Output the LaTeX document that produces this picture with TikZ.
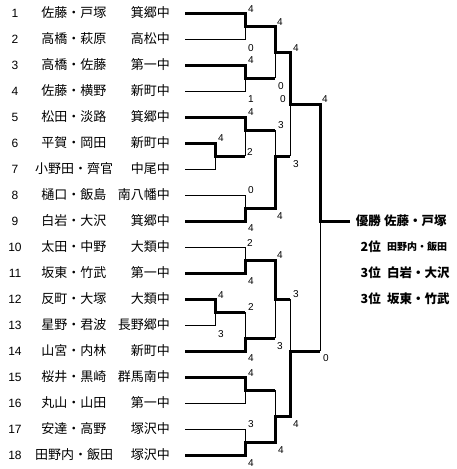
\documentclass[tikz,border=0pt]{standalone}
\usepackage{fontspec}
\setmainfont{Liberation Sans}
\newfontfamily\jp{Noto Sans CJK JP}
\usetikzlibrary{positioning}

\begin{document}
\begin{tikzpicture}[x=1pt, y=-1pt,
  num/.style={font=\fontsize{12}{14}\selectfont, inner sep=0pt},
  pair/.style={font=\jp\fontsize{13}{15}\selectfont, inner sep=0pt},
  school/.style={font=\jp\fontsize{13}{15}\selectfont, inner sep=0pt, anchor=east},
  sc/.style={font=\fontsize{10}{12}\selectfont, inner sep=0pt},
  rank/.style={font=\jp\bfseries\fontsize{12.5}{14}\selectfont, inner sep=0pt, anchor=east},
  wname/.style={font=\jp\bfseries\fontsize{12.5}{14}\selectfont, inner sep=0pt, anchor=west},
  win/.style={line width=3pt},
  lose/.style={line width=1pt}]
  \useasboundingbox (0,0) rectangle (456,469);

  % entries
  \foreach \i/\p/\s in {1/佐藤・戸塚/箕郷中, 2/高橋・萩原/高松中, 3/高橋・佐藤/第一中,
      4/佐藤・横野/新町中, 5/松田・淡路/箕郷中, 6/平賀・岡田/新町中, 7/小野田・齊官/中尾中,
      8/樋口・飯島/南八幡中, 9/白岩・大沢/箕郷中, 10/太田・中野/大類中, 11/坂東・竹武/第一中,
      12/反町・大塚/大類中, 13/星野・君波/長野郷中, 14/山宮・内林/新町中, 15/桜井・黒崎/群馬南中,
      16/丸山・山田/第一中, 17/安達・高野/塚沢中, 18/田野内・飯田/塚沢中} {
    \node[num] (n\i) at (15, 26*\i-13) {\i};
    \node[pair] (p\i) at (74, 26*\i-13) {\p};
    \node[school] (s\i) at (170, 26*\i-13) {\s};
    \coordinate (r\i) at (185, 26*\i-13);
  }

  % match points
  \coordinate (j1) at (245,26);    \coordinate (j2) at (245,78);
  \coordinate (j67) at (215,156);  \coordinate (j5) at (245,130);
  \coordinate (j89) at (245,208);  \coordinate (j1011) at (245,260);
  \coordinate (j1213) at (215,312); \coordinate (j14) at (245,338);
  \coordinate (j1516) at (245,390); \coordinate (j1718) at (245,442);
  \coordinate (k1) at (275,52);    \coordinate (k2) at (275,156);
  \coordinate (k3) at (275,299);   \coordinate (k4) at (275,416);
  \coordinate (l1) at (290,104);   \coordinate (l2) at (290,351);
  \coordinate (f) at (320,221);    \coordinate (fe) at (350,221);

  % upper half
  \draw[win] (r1) -| (j1) -| (k1) -| (l1) -| (f) -- (fe);
  \draw[lose] (r2) -| (j1);
  \draw[win] (r3) -| (j2) -- (j2 -| k1);
  \draw[lose] (j2 -| k1) -- (k1);
  \draw[lose] (r4) -| (j2);
  \draw[win] (r5) -| (j5) -- (j5 -| k2);
  \draw[lose] (j5 -| k2) -- (k2);
  \draw[win] (r6) -| (j67) -- (j67 -| j5);
  \draw[lose] (j67 -| j5) -- (j5);
  \draw[lose] (r7) -| (j67);
  \draw[lose] (r8) -| (j89);
  \draw[win] (r9) -| (j89) -| (k2) -- (k2 -| l1);
  \draw[lose] (k2 -| l1) -- (l1);

  % lower half
  \draw[lose] (r10) -| (j1011);
  \draw[win] (r11) -| (j1011) -| (k3) -- (k3 -| l2);
  \draw[lose] (k3 -| l2) -- (l2);
  \draw[win] (r12) -| (j1213) -- (j1213 -| j14);
  \draw[lose] (j1213 -| j14) -- (j14);
  \draw[lose] (r13) -| (j1213);
  \draw[win] (r14) -| (j14) -- (j14 -| k3);
  \draw[lose] (j14 -| k3) -- (k3);
  \draw[win] (r15) -| (j1516) -- (j1516 -| k4);
  \draw[lose] (j1516 -| k4) -- (k4);
  \draw[lose] (r16) -| (j1516);
  \draw[lose] (r17) -| (j1718);
  \draw[win] (r18) -| (j1718) -| (k4) -| (l2) -- (l2 -| f);
  \draw[lose] (l2 -| f) -- (f);

  % scores
  \foreach \x/\y/\v [count=\c] in {251/9/4, 251/48/0, 251/60/4, 251/99/1, 280/22/4, 281/86/0,
      296/48/4, 296/164/3, 283/99/0, 325/99/4, 221/138/4, 251/112/4, 250/152/2, 281/125/3,
      280/216/4, 251/190/0, 251/228/4, 250/243/2, 251/281/4, 221/295/4, 221/334/3, 251/307/2,
      251/358/4, 280/255/4, 280/346/3, 251/373/4, 251/424/3, 251/463/4, 281/450/4, 296/294/3,
      296/424/4, 326/358/0}
    \node[sc] (sc\c) at (\x,\y) {\v};

  % results
  \node[rank] (rk1) at (381,221) {優勝};
  \node[wname] (wn1) at (384,221) {佐藤・戸塚};
  \node[rank] (rk2) at (381,247) {2位};
  \node[wname, font=\jp\bfseries\fontsize{10}{12}\selectfont] (wn2) at (387,247) {田野内・飯田};
  \node[rank] (rk3) at (381,273) {3位};
  \node[wname] (wn3) at (387,273) {白岩・大沢};
  \node[rank] (rk4) at (381,299) {3位};
  \node[wname] (wn4) at (387,299) {坂東・竹武};
\end{tikzpicture}
\end{document}
